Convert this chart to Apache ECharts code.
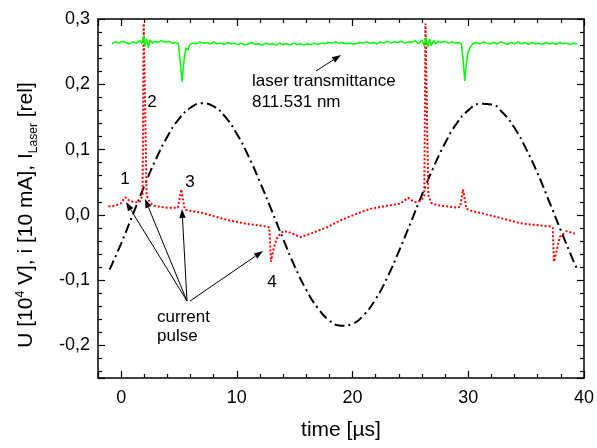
<!DOCTYPE html>
<html><head><meta charset="utf-8">
<script src="https://cdn.jsdelivr.net/npm/echarts@6/dist/echarts.min.js"></script>
<style>html,body{margin:0;padding:0;background:#fff}#c{width:597px;height:448px}</style>
</head><body><div id="c"></div>
<script>
// Voltage U (black dash-dot)
const voltageTime = [-1,0,1,2,3,4,5,6,7,8,9,10,11,12,13,14,15,16,17,18,19,20,21,22,23,24,25,26,27,28,29,30,31,32,33,34,35,36,37,38,39,39.5];
const voltageValue = [-0.084,-0.044,0.000,0.044,0.085,0.120,0.147,0.164,0.171,0.166,0.150,0.124,0.090,0.050,0.007,-0.037,-0.079,-0.115,-0.143,-0.162,-0.170,-0.167,-0.153,-0.129,-0.096,-0.056,-0.013,0.031,0.073,0.110,0.140,0.160,0.170,0.169,0.156,0.133,0.101,0.063,0.020,-0.024,-0.067,-0.086];
// Current i (red dotted)
const currentTime = [-1.1,-0.5,0.0,0.35,0.7,1.2,1.6,1.85,1.95,2.1,2.2,2.5,3.0,4.0,4.9,5.2,5.5,6.0,7.0,8.0,9.2,10.9,12.6,12.8,12.95,13.2,13.5,14.0,14.4,15.5,16.5,17.8,19.0,20.7,21.5,23.0,24.1,24.8,25.3,25.6,26.0,26.2,26.3,26.45,26.55,26.8,27.3,29.0,29.3,29.55,29.85,30.3,31.0,32.8,34.5,37.1,37.3,37.4,37.7,37.9,38.5,39.2];
const currentValue = [0.013,0.014,0.018,0.027,0.022,0.019,0.020,0.030,0.293,0.293,0.030,0.018,0.013,0.011,0.011,0.039,0.008,0.006,0.003,-0.002,-0.008,-0.014,-0.018,-0.019,-0.072,-0.050,-0.034,-0.025,-0.026,-0.034,-0.028,-0.019,-0.008,0.004,0.009,0.014,0.017,0.026,0.020,0.019,0.024,0.030,0.293,0.293,0.030,0.018,0.015,0.011,0.012,0.039,0.009,0.006,0.003,-0.005,-0.013,-0.018,-0.020,-0.072,-0.050,-0.034,-0.025,-0.029];
// Laser transmittance (green)
const laserTime = [-0.8,-0.5,-0.2,0.1,0.4,0.7,1.0,1.3,1.6,1.8,1.95,2.05,2.2,2.35,2.5,2.7,2.9,3.2,3.5,3.8,4.1,4.4,4.7,4.95,5.1,5.27,5.45,5.6,5.75,5.95,6.2,6.5,6.8,7.1,7.4,7.7,8.0,8.3,8.6,8.9,9.2,9.5,9.8,10.1,10.4,10.7,11.0,11.3,11.6,11.9,12.2,12.5,12.8,13.1,13.4,13.7,14.0,14.3,14.6,14.9,15.2,15.5,15.8,16.1,16.4,16.7,17.0,17.3,17.6,17.9,18.2,18.5,18.8,19.1,19.4,19.7,20.0,20.3,20.6,20.9,21.2,21.5,21.8,22.1,22.4,22.7,23.0,23.3,23.6,23.9,24.2,24.5,24.8,25.1,25.4,25.7,26.0,26.2,26.35,26.5,26.65,26.8,27.0,27.2,27.4,27.7,28.0,28.3,28.6,28.9,29.2,29.4,29.55,29.7,29.85,30.0,30.2,30.4,30.7,31.0,31.3,31.6,31.9,32.2,32.5,32.8,33.1,33.4,33.7,34.0,34.3,34.6,34.9,35.2,35.5,35.8,36.1,36.4,36.7,37.0,37.3,37.6,37.9,38.2,38.5,38.8,39.1,39.4];
const laserValue = [0.262,0.265,0.263,0.266,0.264,0.262,0.265,0.263,0.267,0.262,0.275,0.258,0.270,0.256,0.268,0.263,0.266,0.264,0.267,0.264,0.266,0.263,0.264,0.262,0.235,0.204,0.240,0.256,0.252,0.261,0.263,0.262,0.265,0.263,0.264,0.262,0.265,0.262,0.263,0.261,0.264,0.262,0.263,0.261,0.263,0.260,0.262,0.264,0.261,0.262,0.260,0.263,0.261,0.262,0.260,0.263,0.261,0.262,0.260,0.263,0.261,0.262,0.260,0.262,0.261,0.263,0.261,0.263,0.262,0.264,0.263,0.265,0.263,0.264,0.262,0.263,0.262,0.262,0.264,0.263,0.265,0.263,0.264,0.262,0.265,0.263,0.266,0.263,0.265,0.264,0.266,0.263,0.265,0.264,0.267,0.262,0.268,0.259,0.272,0.257,0.269,0.259,0.267,0.262,0.266,0.264,0.266,0.263,0.265,0.263,0.264,0.262,0.238,0.205,0.236,0.250,0.258,0.262,0.264,0.262,0.265,0.263,0.262,0.264,0.262,0.265,0.263,0.261,0.264,0.262,0.265,0.262,0.264,0.261,0.264,0.262,0.263,0.261,0.264,0.262,0.263,0.261,0.264,0.262,0.263,0.261,0.263,0.262];

const zip = (a, b) => a.map((t, i) => [t, b[i]]);
const FONT = '"Liberation Sans", Arial, sans-serif';
const chart = echarts.init(document.getElementById('c'), null, {renderer: 'canvas'});

function xAxisDef(pos, labels) {
  return {
    type: 'value', position: pos, min: -2, max: 40, splitNumber: 5,
    axisLine: {show: true, onZero: false, lineStyle: {color: '#000', width: 1.5}},
    axisTick: {show: true, inside: true, length: 7, lineStyle: {color: '#000', width: 1.2}},
    minorTick: {show: true, splitNumber: 5, length: 4, lineStyle: {color: '#000', width: 1.2}},
    splitLine: {show: false}, minorSplitLine: {show: false},
    axisLabel: {show: labels, color: '#000', fontSize: 18, fontFamily: FONT, margin: 11,
      showMinLabel: true, showMaxLabel: true,
      formatter: v => (Math.abs(v % 10) < 1e-6 ? String(Math.round(v)) : '')},
    name: labels ? 'time [µs]' : '', nameLocation: 'middle', nameGap: 42,
    nameTextStyle: {color: '#000', fontSize: 21, fontFamily: FONT}
  };
}
function yAxisDef(pos, labels) {
  return {
    type: 'value', position: pos, min: -0.25, max: 0.3, splitNumber: 5,
    axisLine: {show: true, onZero: false, lineStyle: {color: '#000', width: 1.5}},
    axisTick: {show: true, inside: true, length: 7, lineStyle: {color: '#000', width: 1.2}},
    minorTick: {show: true, splitNumber: 5, length: 4, lineStyle: {color: '#000', width: 1.2}},
    splitLine: {show: false}, minorSplitLine: {show: false},
    axisLabel: {show: labels, color: '#000', fontSize: 18, fontFamily: FONT, margin: 8,
      showMinLabel: true, showMaxLabel: true,
      formatter: v => {
        const r = Math.round(v * 10);
        if (Math.abs(v * 10 - r) > 1e-6) return '';
        return (r / 10).toFixed(1).replace('.', ',');
      }}
  };
}

chart.setOption({
  animation: false,
  backgroundColor: '#fff',
  grid: {left: 98, right: 13, top: 19, bottom: 70, containLabel: false},
  xAxis: [xAxisDef('bottom', true), xAxisDef('top', false)],
  yAxis: [yAxisDef('left', true), yAxisDef('right', false)],
  series: [
    {type: 'line', name: 'U', data: zip(voltageTime, voltageValue), smooth: true, showSymbol: false,
      lineStyle: {color: '#000', width: 2, type: [10, 4, 2, 4]}, z: 2},
    {type: 'line', name: 'i', data: zip(currentTime, currentValue), showSymbol: false,
      lineStyle: {color: '#ff0000', width: 2, type: [2, 2]}, z: 3},
    {type: 'line', name: 'laser', data: zip(laserTime, laserValue), showSymbol: false,
      lineStyle: {color: '#00ff00', width: 1.5}, z: 4}
  ]
});

function arrow(x1, y1, x2, y2) {
  const a = Math.atan2(y2 - y1, x2 - x1), L = 9, W = 3.2;
  const c = Math.cos(a), s = Math.sin(a);
  const bx = x2 - L * c, by = y2 - L * s;
  return [
    {type: 'line', shape: {x1: x1, y1: y1, x2: bx, y2: by}, style: {stroke: '#000', lineWidth: 1}},
    {type: 'polygon', shape: {points: [[x2, y2], [bx - W * s, by + W * c], [bx + W * s, by - W * c]]}, style: {fill: '#000'}}
  ];
}
function label(txt, x, y, align) {
  return {type: 'text', x: x, y: y, style: {text: txt, fill: '#000', fontSize: 17, fontFamily: FONT,
    align: align || 'center', verticalAlign: 'middle'}};
}
const g = [];
g.push(...arrow(187, 301, 126, 202));
g.push(...arrow(187, 301, 145, 199));
g.push(...arrow(187, 301, 182, 209));
g.push(...arrow(190, 301, 263, 251));
g.push(...arrow(316, 71, 341, 55));
g.push(label('1', 125, 179), label('2', 152, 102), label('3', 190, 182), label('4', 272, 282));
g.push(label('current', 157, 317, 'left'), label('pulse', 157, 336, 'left'));
g.push(label('laser transmittance', 252, 81, 'left'), label('811.531 nm', 252, 102, 'left'));
g.push({type: 'text', x: 26, y: 215, rotation: Math.PI / 2,
  style: {text: '{a|U [10}{sup|4}{a| V], i [10 mA], I}{sub|Laser}{a| [rel]}', fill: '#000',
    align: 'center', verticalAlign: 'middle', fontFamily: FONT,
    rich: {
      a: {fontSize: 21, fontFamily: FONT, lineHeight: 28, verticalAlign: 'middle'},
      sup: {fontSize: 12, fontFamily: FONT, lineHeight: 12, verticalAlign: 'top', padding: [3, 0, 0, 0]},
      sub: {fontSize: 12, fontFamily: FONT, lineHeight: 12, verticalAlign: 'bottom'}
    }}});
chart.setOption({graphic: g});
</script></body></html>
